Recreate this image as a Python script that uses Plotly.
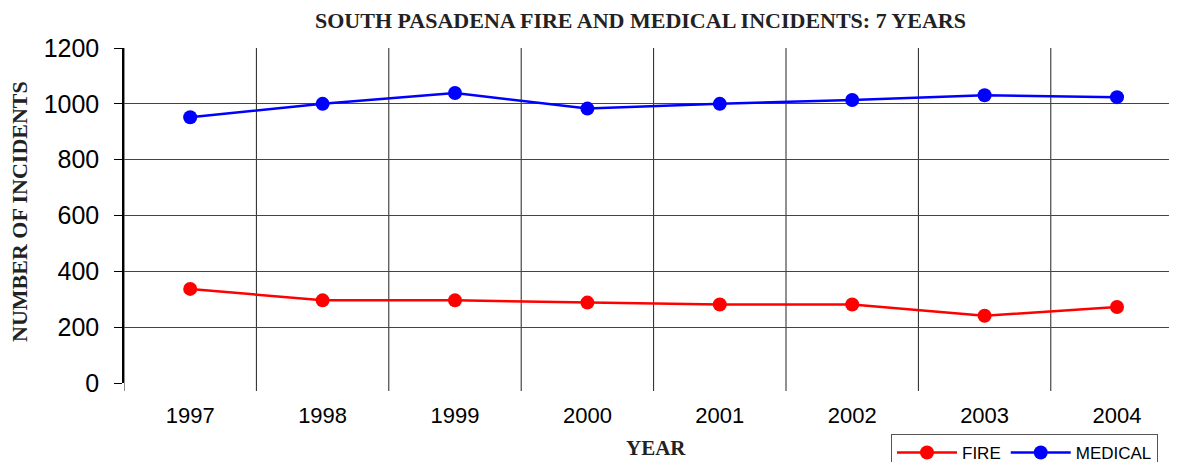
import plotly.graph_objects as go

years = ["1997", "1998", "1999", "2000", "2001", "2002", "2003", "2004"]
fire = [337, 296, 296, 288, 281, 281, 241, 272]
medical = [952, 1000, 1039, 983, 1000, 1014, 1031, 1024]
y_ticks = [0, 200, 400, 600, 800, 1000, 1200]

# page body has an 8px margin; figure sized to fit the 1177x470 window
OFF = 8
W, H = 1177 - 2 * OFF, 470 - 2 * OFF
L, T = 124 - OFF, 48 - OFF
B = H - (383 - OFF)
R = 0
PW, PH = W - L - R, H - T - B

def px(x):
    return (x - OFF - L) / PW

def py(y):
    return (H - B - (y - OFF)) / PH

fig = go.Figure()
fig.add_trace(go.Scatter(x=list(range(len(years))), y=fire, name="FIRE", mode="lines+markers",
                         line=dict(color="#ff0000", width=2.5),
                         marker=dict(color="#ff0000", size=14)))
fig.add_trace(go.Scatter(x=list(range(len(years))), y=medical, name="MEDICAL", mode="lines+markers",
                         line=dict(color="#0000ff", width=2.5),
                         marker=dict(color="#0000ff", size=14)))

fig.update_layout(
    width=W, height=H,
    margin=dict(l=L, r=R, t=T, b=B, autoexpand=False),
    plot_bgcolor="white", paper_bgcolor="white",
    showlegend=True,
    legend=dict(orientation="h", xref="container", yref="container", x=(891 - OFF) / W,
                y=1 - (434 - OFF) / H,
                xanchor="left", yanchor="top", bgcolor="white", bordercolor="#555",
                borderwidth=1, font=dict(family="Liberation Sans, Arial", size=17, color="#000"),
                itemwidth=60),
    annotations=[
        dict(text="<b>SOUTH PASADENA FIRE AND MEDICAL INCIDENTS: 7 YEARS</b>", xref="paper", yref="paper",
             x=px(640), y=py(20), xanchor="center", yanchor="middle", showarrow=False,
             font=dict(family="Liberation Serif, Times New Roman", size=22, color="#222")),
        dict(text="<b>NUMBER OF INCIDENTS</b>", xref="paper", yref="paper", x=px(20), y=py(212),
             textangle=-90, xanchor="center", yanchor="middle", showarrow=False,
             font=dict(family="Liberation Serif, Times New Roman", size=22, color="#222")),
        dict(text="<b>YEAR</b>", xref="paper", yref="paper", x=px(656),
             y=py(448), xanchor="center", yanchor="middle", showarrow=False,
             font=dict(family="Liberation Serif, Times New Roman", size=21, color="#222")),
    ],
)

# vertical gridlines at category boundaries
for i in range(len(years)):
    fig.add_shape(type="line", xref="x", yref="paper", x0=i - 0.5, x1=i - 0.5, y0=-8 / PH, y1=1,
                  line=dict(color="#222", width=1), layer="below")

fig.update_xaxes(range=[-0.5, -0.5 + PW / 132.4], tickmode="array", tickvals=list(range(len(years))),
                 ticktext=years, showgrid=False, zeroline=False, showline=False, ticks="", automargin=False,
                 tickfont=dict(family="Liberation Sans, Arial", size=22, color="#000"), ticklabelstandoff=17)
fig.update_yaxes(range=[0, 1200], tickmode="array", tickvals=y_ticks, showgrid=True, gridcolor="#444",
                 gridwidth=1, zeroline=False, showline=True, linecolor="#000", linewidth=1.5,
                 ticks="outside", ticklen=8, tickcolor="#000", automargin=False, ticklabelstandoff=10,
                 tickfont=dict(family="Liberation Sans, Arial", size=25, color="#000"))

fig.write_html("out.html")
